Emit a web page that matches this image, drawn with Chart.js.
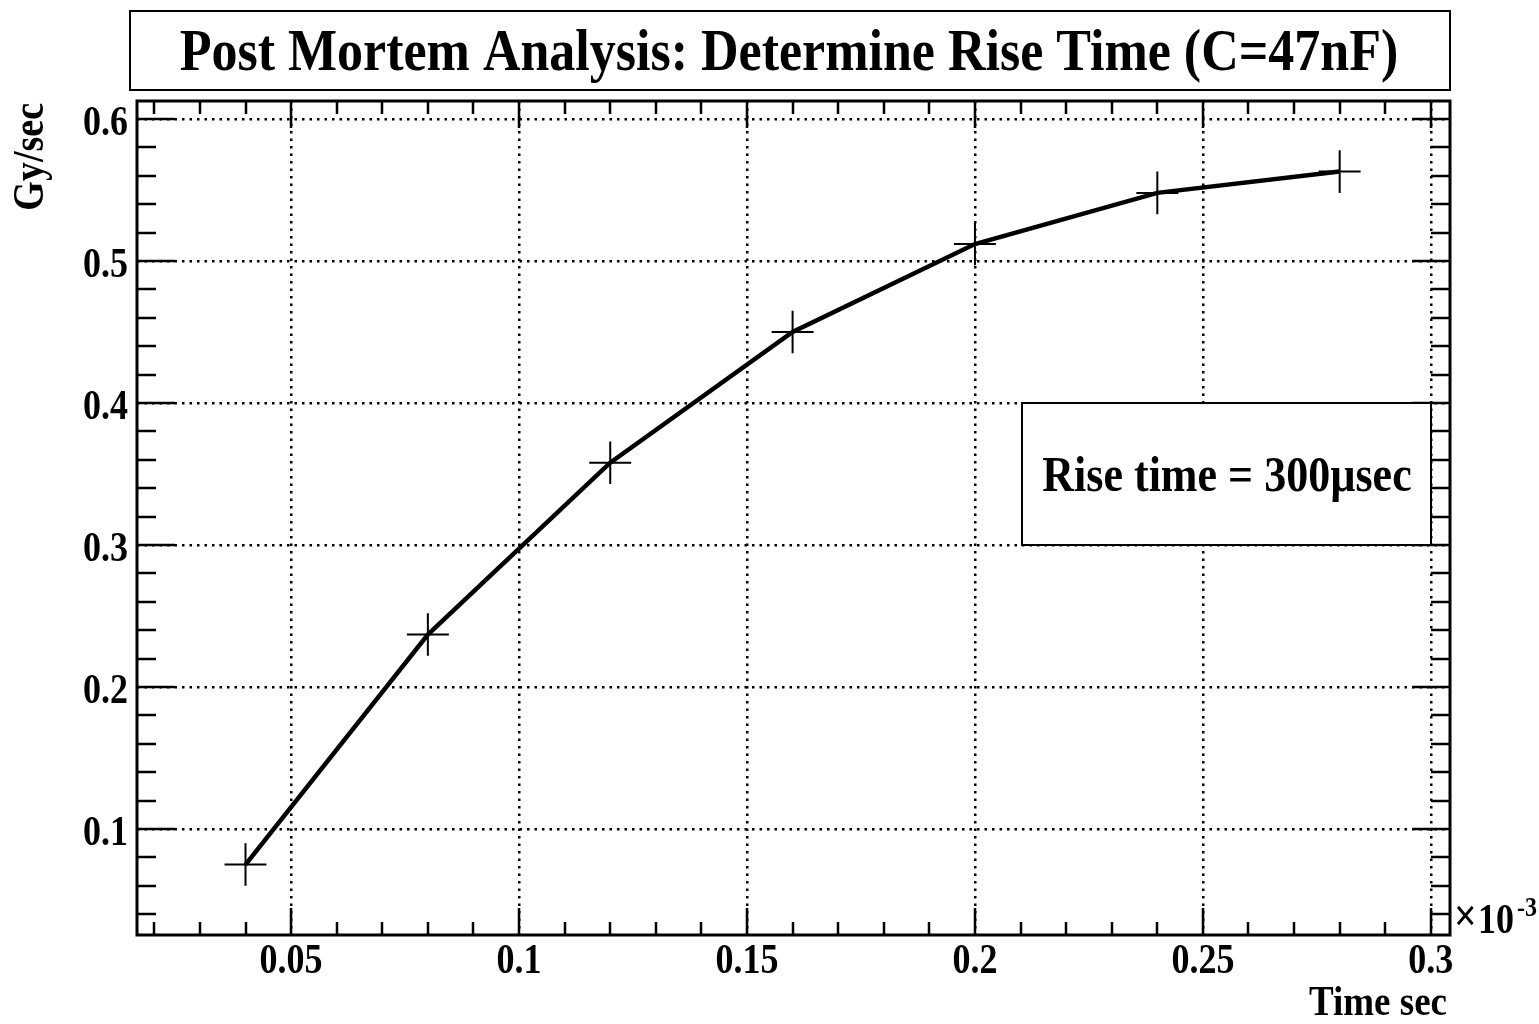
<!DOCTYPE html>
<html lang="en">
<head>
    <meta charset="UTF-8">
    <title>Post Mortem Analysis</title>
    <script src="https://cdn.jsdelivr.net/npm/chart.js"></script>
    <style>
        body {
            margin: 0;
            background: #fff;
        }
        #wrap {
            width: 1539px;
            height: 1024px;
            position: relative;
        }
    </style>
</head>
<body>
    <div id="wrap"><canvas id="riseChart"></canvas></div>

    <script>
        // time in units of 1e-3 sec, dose rate in Gy/sec
        const timeMs = [0.04, 0.08, 0.12, 0.16, 0.20, 0.24, 0.28];
        const doseRate = [0.075, 0.237, 0.358, 0.450, 0.512, 0.548, 0.563];
        const timeErr = [0.0046, 0.0046, 0.0046, 0.0046, 0.0046, 0.0046, 0.0046];
        const rateErr = [0.015, 0.015, 0.015, 0.015, 0.015, 0.015, 0.015];

        const titleText = 'Post Mortem Analysis: Determine Rise Time (C=47nF)';
        const boxText = 'Rise time = 300\u00b5sec';
        const xTitle = 'Time sec';
        const yTitle = 'Gy/sec';

        const serif = "'Liberation Serif', 'DejaVu Serif', serif";
        const STRETCH = 1.15; // the original text is a bit taller than Times

        const fmt = v => Number(v.toFixed(2)).toString();

        // draws text stretched vertically around its baseline
        function tallText(ctx, txt, x, y, size, align) {
            ctx.save();
            ctx.translate(x, y);
            ctx.scale(1, STRETCH);
            ctx.font = 'bold ' + size + 'px ' + serif;
            ctx.textAlign = align || 'left';
            ctx.textBaseline = 'alphabetic';
            ctx.fillText(txt, 0, 0);
            ctx.restore();
        }

        // frame, ROOT style ticks, labels and boxes
        const decorations = {
            id: 'decorations',
            afterDatasetsDraw(chart) {
                const ctx = chart.ctx;
                const a = chart.chartArea;
                const xs = chart.scales.x, ys = chart.scales.y;
                ctx.save();
                ctx.fillStyle = '#000';
                ctx.strokeStyle = '#000';

                // error crosses
                ctx.lineWidth = 2;
                timeMs.forEach((t, i) => {
                    const px = xs.getPixelForValue(t);
                    const py = ys.getPixelForValue(doseRate[i]);
                    const x1 = xs.getPixelForValue(t - timeErr[i]);
                    const x2 = xs.getPixelForValue(t + timeErr[i]);
                    const y1 = ys.getPixelForValue(doseRate[i] - rateErr[i]);
                    const y2 = ys.getPixelForValue(doseRate[i] + rateErr[i]);
                    ctx.beginPath();
                    ctx.moveTo(x1, py); ctx.lineTo(x2, py);
                    ctx.moveTo(px, y1); ctx.lineTo(px, y2);
                    ctx.stroke();
                });

                // ticks
                ctx.lineWidth = 2.5;
                ctx.beginPath();
                for (let k = 2; k <= 30; k++) {
                    const px = Math.round(xs.getPixelForValue(k / 100));
                    const len = k % 5 === 0 ? 27 : 13;
                    ctx.moveTo(px, a.bottom); ctx.lineTo(px, a.bottom - len);
                    ctx.moveTo(px, a.top); ctx.lineTo(px, a.top + len);
                }
                for (let k = 2; k <= 30; k++) {
                    const py = Math.round(ys.getPixelForValue(k / 50));
                    const len = k % 5 === 0 ? 38 : 19;
                    ctx.moveTo(a.left, py); ctx.lineTo(a.left + len, py);
                    ctx.moveTo(a.right, py); ctx.lineTo(a.right - len, py);
                }
                ctx.stroke();

                // frame
                ctx.lineWidth = 3;
                ctx.strokeRect(a.left, a.top, a.right - a.left, a.bottom - a.top);

                // tick labels from the scales
                xs.ticks.forEach(t => {
                    tallText(ctx, fmt(t.value), xs.getPixelForValue(t.value), 973, 36, 'center');
                });
                ys.ticks.forEach(t => {
                    tallText(ctx, fmt(t.value), 128, ys.getPixelForValue(t.value) + 16, 36, 'right');
                });

                // text box
                ctx.fillStyle = '#fff';
                ctx.fillRect(1022, 403, 409, 142);
                ctx.lineWidth = 2;
                ctx.strokeRect(1022, 403, 409, 142);
                ctx.fillStyle = '#000';
                tallText(ctx, boxText, 1227, 491, 44, 'center');

                // title box
                ctx.lineWidth = 2;
                ctx.strokeRect(130, 11, 1320, 79);
                tallText(ctx, titleText, 789, 70, 52, 'center');

                // axis titles
                tallText(ctx, xTitle, 1447, 1015, 37, 'right');

                ctx.save();
                ctx.translate(43, 103);
                ctx.rotate(-Math.PI / 2);
                ctx.scale(1, STRETCH);
                ctx.font = 'bold 38px ' + serif;
                ctx.textAlign = 'right';
                ctx.fillText(yTitle, 0, 0);
                ctx.restore();

                // exponent
                tallText(ctx, '\u00d7', 1454, 931, 40, 'left');
                tallText(ctx, '10', 1478, 933, 36, 'left');
                tallText(ctx, '-3', 1517, 916, 24, 'left');

                ctx.restore();
            }
        };

        const ctx = document.getElementById('riseChart').getContext('2d');
        new Chart(ctx, {
            type: 'scatter',
            data: {
                datasets: [{
                    data: timeMs.map((t, i) => ({ x: t, y: doseRate[i] })),
                    showLine: true,
                    borderColor: '#000',
                    borderWidth: 4.5,
                    pointRadius: 0,
                    tension: 0
                }]
            },
            options: {
                responsive: true,
                maintainAspectRatio: false,
                animation: false,
                layout: { padding: { left: 0, top: 101, right: 89, bottom: 0 } },
                plugins: {
                    legend: { display: false },
                    tooltip: { enabled: false }
                },
                scales: {
                    x: {
                        type: 'linear',
                        min: 0.0162,
                        max: 0.3042,
                        afterFit: s => { s.height = 89; },
                        grid: { color: '#000', lineWidth: 2.5, drawTicks: false },
                        border: { display: false, dash: [2.5, 5] },
                        ticks: {
                            display: false,
                            stepSize: 0.05,
                            includeBounds: false,
                            autoSkip: false
                        }
                    },
                    y: {
                        type: 'linear',
                        min: 0.0254,
                        max: 0.6127,
                        afterFit: s => { s.width = 137; },
                        grid: { color: '#000', lineWidth: 2.5, drawTicks: false },
                        border: { display: false, dash: [2.5, 5] },
                        ticks: {
                            display: false,
                            stepSize: 0.1,
                            includeBounds: false,
                            autoSkip: false
                        }
                    }
                }
            },
            plugins: [decorations]
        });
    </script>
</body>
</html>
